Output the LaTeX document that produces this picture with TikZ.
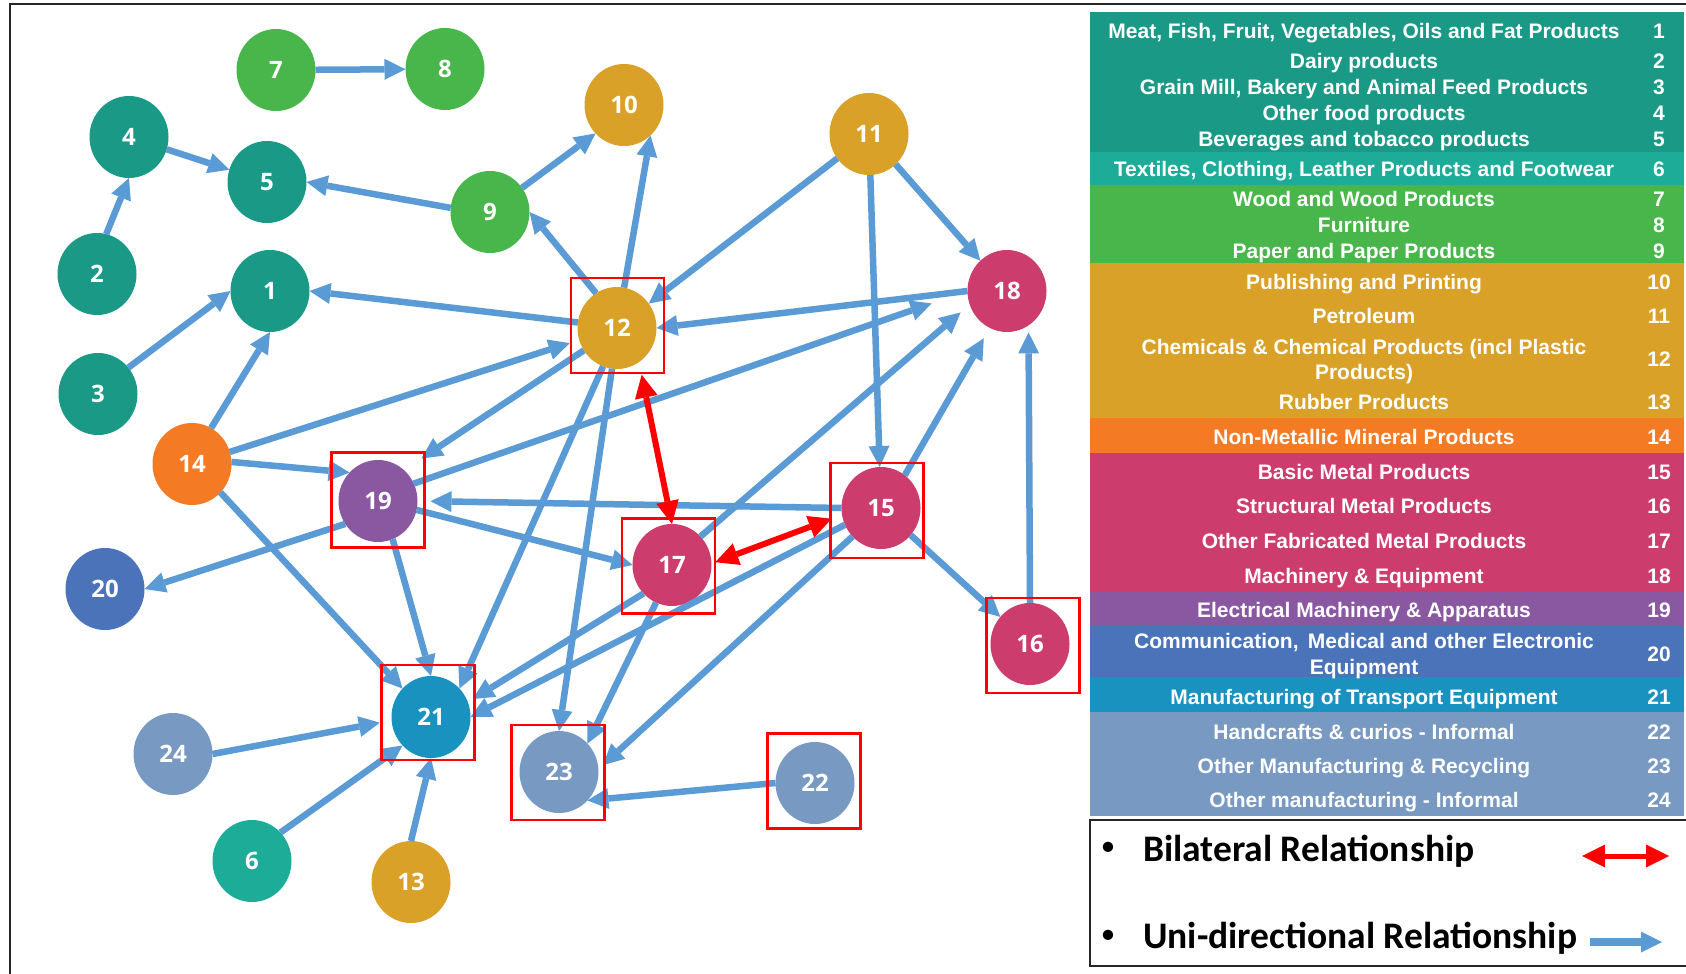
\documentclass[tikz,border=0pt]{standalone}
\usepackage{fontspec}
\setmainfont{Liberation Sans}
\newfontfamily\numfont{Open Sans}
\newfontfamily\keyfont{Carlito}
\usetikzlibrary{arrows.meta,shapes.geometric}
\definecolor{cteal}{HTML}{1A9986}
\definecolor{ctex}{HTML}{1CAC97}
\definecolor{cgreen}{HTML}{48B64A}
\definecolor{cgold}{HTML}{DAA129}
\definecolor{corange}{HTML}{F47A24}
\definecolor{cmag}{HTML}{CC3D6E}
\definecolor{cpurp}{HTML}{8958A1}
\definecolor{cblue}{HTML}{4A73B9}
\definecolor{ccyan}{HTML}{1992C0}
\definecolor{cgrey}{HTML}{7899C1}
\definecolor{ablue}{HTML}{5B9BD5}
\begin{document}
\begin{tikzpicture}[x=1pt,y=-1pt,
  ind/.style={ellipse, minimum width=79pt, minimum height=82pt, inner sep=0pt, outer sep=0pt,
    text=white, font=\numfont\bfseries\fontsize{24}{24}\selectfont, text height=17pt, text depth=0pt},
  uni/.style={draw=ablue, line width=6.5pt, -{Triangle[length=21pt,width=21pt,line width=0pt]}},
  bi/.style={draw=red, line width=6pt, {Triangle[length=23pt,width=23pt,line width=0pt]}-{Triangle[length=23pt,width=23pt,line width=0pt]}},
  redbox/.style={draw=red, line width=2.6pt, minimum width=93pt, minimum height=95pt, inner sep=0pt},
  legtxt/.style={text=white, font=\bfseries\fontsize{21}{21}\selectfont, inner sep=0pt, text height=15pt, text depth=0pt},
  keytxt/.style={text=black, font=\keyfont\bfseries\fontsize{37.5}{40}\selectfont, inner sep=0pt},
  keybul/.style={text=black, font=\keyfont\fontsize{29}{29}\selectfont, inner sep=0pt},
]
\useasboundingbox (0,0) rectangle (1686,974);
\fill[white] (0,0) rectangle (1686,974);
% outer frame
\draw[line width=2pt, black!85] (10.3,974) -- (10.3,4.3) -- (1686,4.3);

% legend bands
\fill[cteal] (1090,12.5) rectangle (1684,152);
\fill[ctex] (1090,152) rectangle (1684,185);
\fill[cgreen] (1090,185) rectangle (1684,263);
\fill[cgold] (1090,263) rectangle (1684,418);
\fill[corange] (1090,418) rectangle (1684,453);
\fill[cmag] (1090,453) rectangle (1684,592);
\fill[cpurp] (1090,592) rectangle (1684,626);
\fill[cblue] (1090,626) rectangle (1684,677);
\fill[ccyan] (1090,677) rectangle (1684,712);
\fill[cgrey] (1090,712) rectangle (1684,816);

\node[legtxt] (t1) at (1364,31) {Meat, Fish, Fruit, Vegetables, Oils and Fat Products};
\node[legtxt] (t2) at (1364,61) {Dairy products};
\node[legtxt] (t3) at (1364,87) {Grain Mill, Bakery and Animal Feed Products};
\node[legtxt] (t4) at (1364,113) {Other food products};
\node[legtxt] (t5) at (1364,139) {Beverages and tobacco products};
\node[legtxt] (t6) at (1364,169) {Textiles, Clothing, Leather Products and Footwear};
\node[legtxt] (t7) at (1364,199) {Wood and Wood Products};
\node[legtxt] (t8) at (1364,225) {Furniture};
\node[legtxt] (t9) at (1364,251) {Paper and Paper Products};
\node[legtxt] (t10) at (1364,282) {Publishing and Printing};
\node[legtxt] (t11) at (1364,316) {Petroleum};
\node[legtxt] (t12a) at (1364,347) {Chemicals \& Chemical Products (incl Plastic};
\node[legtxt] (t12b) at (1364,372) {Products)};
\node[legtxt] (t13) at (1364,402) {Rubber Products};
\node[legtxt] (t14) at (1364,437) {Non-Metallic Mineral Products};
\node[legtxt] (t15) at (1364,472) {Basic Metal Products};
\node[legtxt] (t16) at (1364,506) {Structural Metal Products};
\node[legtxt] (t17) at (1364,541) {Other Fabricated Metal Products};
\node[legtxt] (t18) at (1364,576) {Machinery \& Equipment};
\node[legtxt] (t19) at (1364,610) {Electrical Machinery \& Apparatus};
\node[legtxt] (t20a) at (1364,641) {Communication, \,Medical and other Electronic};
\node[legtxt] (t20b) at (1364,667) {Equipment};
\node[legtxt] (t21) at (1364,697) {Manufacturing of Transport Equipment};
\node[legtxt] (t22) at (1364,732) {Handcrafts \& curios - Informal};
\node[legtxt] (t23) at (1364,766) {Other Manufacturing \& Recycling};
\node[legtxt] (t24) at (1364,800) {Other manufacturing - Informal};

\node[legtxt] (k1) at (1659,31) {1};
\node[legtxt] (k2) at (1659,61) {2};
\node[legtxt] (k3) at (1659,87) {3};
\node[legtxt] (k4) at (1659,113) {4};
\node[legtxt] (k5) at (1659,139) {5};
\node[legtxt] (k6) at (1659,169) {6};
\node[legtxt] (k7) at (1659,199) {7};
\node[legtxt] (k8) at (1659,225) {8};
\node[legtxt] (k9) at (1659,251) {9};
\node[legtxt] (k10) at (1659,282) {10};
\node[legtxt] (k11) at (1659,316) {11};
\node[legtxt] (k12) at (1659,359) {12};
\node[legtxt] (k13) at (1659,402) {13};
\node[legtxt] (k14) at (1659,437) {14};
\node[legtxt] (k15) at (1659,472) {15};
\node[legtxt] (k16) at (1659,506) {16};
\node[legtxt] (k17) at (1659,541) {17};
\node[legtxt] (k18) at (1659,576) {18};
\node[legtxt] (k19) at (1659,610) {19};
\node[legtxt] (k20) at (1659,654) {20};
\node[legtxt] (k21) at (1659,697) {21};
\node[legtxt] (k22) at (1659,732) {22};
\node[legtxt] (k23) at (1659,766) {23};
\node[legtxt] (k24) at (1659,800) {24};

% key box
\draw[line width=2pt, black!85] (1686,820) -- (1090,820) -- (1090,966) -- (1686,966);
\node[keybul] (kb0) at (1108,849) {•};
\node[keytxt, anchor=base west] (kb) at (1143,861) {Bilateral Relationship};
\node[keybul] (ku0) at (1108,937) {•};
\node[keytxt, anchor=base west] (ku) at (1143,948) {Uni-directional Relationship};
\coordinate (ra) at (1582,856);
\coordinate (rb) at (1669,856);
\coordinate (ua) at (1590,942);
\coordinate (ub) at (1662,942);
\draw[bi, line width=5pt] (ra) -- (rb);
\draw[uni, line width=8pt] (ua) -- (ub);

% graph nodes
\node[ind, fill=cteal] (n1) at (270,291) {1};
\node[ind, fill=cteal] (n2) at (97,274) {2};
\node[ind, fill=cteal] (n3) at (98,394) {3};
\node[ind, fill=cteal] (n4) at (129,137) {4};
\node[ind, fill=cteal] (n5) at (267,182) {5};
\node[ind, fill=ctex] (n6) at (252,861) {6};
\node[ind, fill=cgreen] (n7) at (276,70) {7};
\node[ind, fill=cgreen] (n8) at (445,69) {8};
\node[ind, fill=cgreen] (n9) at (490,212) {9};
\node[ind, fill=cgold] (n10) at (624,105) {10};
\node[ind, fill=cgold] (n11) at (869,134) {11};
\node[ind, fill=cgold] (n12) at (617,328) {12};
\node[ind, fill=cgold] (n13) at (411,882) {13};
\node[ind, fill=corange] (n14) at (192,464) {14};
\node[ind, fill=cmag] (n15) at (881,508) {15};
\node[ind, fill=cmag] (n16) at (1030,644) {16};
\node[ind, fill=cmag] (n17) at (672,565) {17};
\node[ind, fill=cmag] (n18) at (1007,291) {18};
\node[ind, fill=cpurp] (n19) at (378,501) {19};
\node[ind, fill=cblue] (n20) at (105,589) {20};
\node[ind, fill=ccyan] (n21) at (431,717) {21};
\node[ind, fill=cgrey] (n22) at (815,783) {22};
\node[ind, fill=cgrey] (n23) at (559,772) {23};
\node[ind, fill=cgrey] (n24) at (173,754) {24};

% uni-directional connectors
\draw[uni] (n7) -- (n8);
\draw[uni] (n4) -- (n5);
\draw[uni] (n2.77) -- (n4.-90);
\draw[uni] (n9.174) -- (n5.0);
\draw[uni] (n9.37) -- (n10.225);
\draw[uni] (n12.121) -- (n9.0);
\draw[uni] (n12.80) -- (n10.-49);
\draw[uni] (n12.172) -- (n1.0);
\draw[uni] (n3.41) -- (n1.180);
\draw[uni] (n14.62) -- (n1.-90);
\draw[uni, shorten >=10pt] (n14) -- (n12);
\draw[uni] (n11) -- (n12);
\draw[uni] (n11) -- (n18);
\draw[uni] (n11) -- (n15);
\draw[uni] (n18.180) -- (n12.0);
\draw[uni, shorten >=21pt] (n12.214) -- (n19.50);
\draw[uni, shorten >=38pt] (n19.26) -- (n18.180);
\draw[uni, shorten >=12pt] (n17.45) -- (n18.200);
\draw[uni, shorten >=12pt] (n15.54) -- (n18.245);
\draw[uni, shorten >=7pt] (n16.90) -- (n18.-58);
\draw[uni] (n15) -- (n16);
\draw[uni, shorten >=13pt] (n15.180) -- (n19.0);
\draw[uni] (n14.3) -- (n19.135);
\draw[uni] (n19.215) -- (n20.0);
\draw[uni] (n19.-13) -- (n17.180);
\draw[uni] (n19.-69) -- (n21.90);
\draw[uni] (n14.-45) -- (n21.135);
\draw[uni] (n12.-110) -- (n21.45);
\draw[uni] (n12.-97) -- (n23.90);
\draw[uni] (n17.-113) -- (n23.45);
\draw[uni, shorten >=6pt] (n17.225) -- (n21.22);
\draw[uni] (n15.205) -- (n21.0);
\draw[uni, shorten >=6pt] (n15.225) -- (n23.4);
\draw[uni] (n22.180) -- (n23.-45);
\draw[uni, shorten >=12pt] (n24.0) -- (n21.185);
\draw[uni] (n6.45) -- (n21.225);
\draw[uni] (n13.90) -- (n21.-90);

% red boxes
\node[redbox] (b12) at (617.5,325.5) {};
\node[redbox] (b19) at (378,500) {};
\node[redbox] (b15) at (877,510.5) {};
\node[redbox] (b17) at (668.5,566) {};
\node[redbox] (b16) at (1033,645.5) {};
\node[redbox] (b21) at (428,712.5) {};
\node[redbox] (b23) at (558,772.5) {};
\node[redbox] (b22) at (814,781) {};

% bilateral connectors
\draw[bi, shorten <=13pt] (n12.-57) -- (n17.90);
\draw[bi, shorten <=4pt, shorten >=11pt] (n17.2) -- (n15.190);
\end{tikzpicture}
\end{document}
